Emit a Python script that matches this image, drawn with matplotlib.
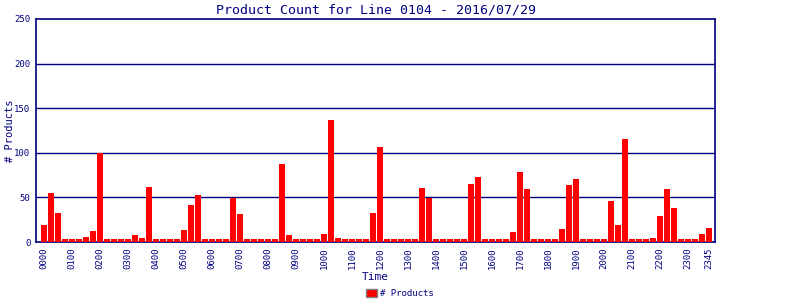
import matplotlib
matplotlib.use("Agg")
import matplotlib.pyplot as plt
from matplotlib.patches import Patch

# product counts per 15 minute slot, 0000 .. 2345
counts = [19, 55, 33, 3, 3, 3, 6, 12, 100, 3, 3, 3, 3, 8, 5, 62,
          3, 3, 3, 3, 14, 42, 53, 3, 3, 3, 3, 49, 32, 3, 3, 3,
          3, 3, 87, 8, 3, 3, 3, 3, 9, 137, 5, 3, 3, 3, 3, 33,
          106, 3, 3, 3, 3, 3, 61, 49, 3, 3, 3, 3, 3, 65, 73, 3,
          3, 3, 3, 11, 78, 59, 3, 3, 3, 3, 15, 64, 71, 3, 3, 3,
          3, 46, 19, 115, 3, 3, 3, 5, 29, 60, 38, 3, 3, 3, 9, 16]
times = ["%02d%02d" % (i // 4, (i % 4) * 15) for i in range(len(counts))]
tick_labels = [t for t in times if t.endswith("00")] + ["2345"]
y_ticks = [0, 50, 100, 150, 200, 250]

navy = "#000080"
font = "DejaVu Sans Mono"

fig = plt.figure(figsize=(8, 3), dpi=100)
ax = fig.add_axes([0.045, 0.193, 0.849, 0.744])

x = list(range(len(counts)))
ax.bar(x, counts, width=0.86, color="#ff0000", zorder=3)

ax.set_xlim(-1.15, 95.85)
ax.set_ylim(0, 250)
ax.set_yticks(y_ticks)
ax.set_yticklabels([str(v) for v in y_ticks], fontsize=6.5, color=navy, family=font)
ax.set_xticks([times.index(t) for t in tick_labels])
ax.set_xticklabels(tick_labels, rotation=90, fontsize=6.5, color=navy, family=font)
ax.tick_params(length=0, pad=4)
for v in y_ticks[1:-1]:
    ax.axhline(v, color=navy, lw=1, zorder=1)
for s in ax.spines.values():
    s.set_color(navy)
    s.set_linewidth(1.2)

ax.set_title("Product Count for Line 0104 - 2016/07/29", fontsize=9.5, color=navy,
             family=font, pad=4)
ax.set_xlabel("Time", fontsize=8, color=navy, family=font, labelpad=2)
ax.set_ylabel("# Products", fontsize=7.5, color=navy, family=font)
ax.yaxis.set_label_coords(-0.031, 0.5)

leg = fig.legend(handles=[Patch(facecolor="#ff0000", edgecolor="#808080", label="# Products")],
                 loc="lower center", bbox_to_anchor=(0.5, -0.02), frameon=False,
                 prop={"family": font, "size": 6.5}, handlelength=1.2, handleheight=0.9,
                 handletextpad=0.3)
for t in leg.get_texts():
    t.set_color(navy)

fig.savefig("out.png", dpi=100)
